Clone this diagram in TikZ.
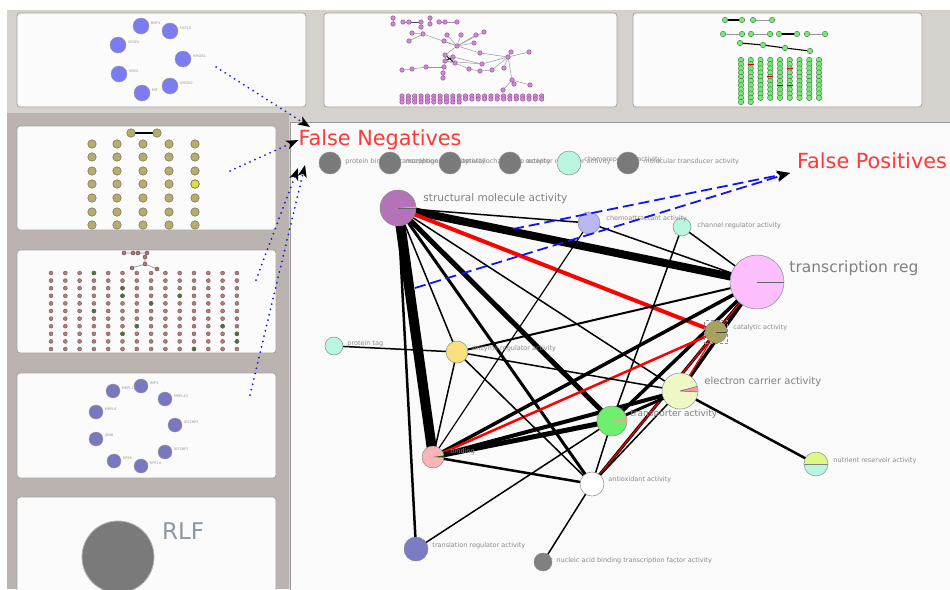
\documentclass[tikz,border=0pt]{standalone}
\usepackage{fontspec}
\setmainfont{DejaVu Sans}
\usetikzlibrary{arrows.meta}
\usetikzlibrary{positioning}

\definecolor{deskbg}{HTML}{D5D1CD}
\definecolor{colbg}{HTML}{BAB3AF}
\definecolor{paneledge}{HTML}{A4A2A0}
\definecolor{panelfill}{HTML}{FBFBFB}
\definecolor{labgray}{HTML}{8A8A8A}
\definecolor{fnred}{HTML}{FF3838}
\definecolor{linkblue}{HTML}{1414F0}
\definecolor{smacol}{HTML}{B472B8}
\definecolor{chacol}{HTML}{B8B8F4}
\definecolor{mintcol}{HTML}{B8F6E0}
\definecolor{tracol}{HTML}{FDBEFD}
\definecolor{catcol}{HTML}{A8A25E}
\definecolor{ecacol}{HTML}{EEF8C6}
\definecolor{tpacol}{HTML}{6EF06E}
\definecolor{eracol}{HTML}{F9E07E}
\definecolor{bndcol}{HTML}{F8B4B8}
\definecolor{trrcol}{HTML}{7C7CC4}
\definecolor{nutcol}{HTML}{DDF884}
\definecolor{bluecol}{HTML}{7B7BF2}
\definecolor{olivecol}{HTML}{B4AC70}
\definecolor{dotcol}{HTML}{B07C7C}
\definecolor{violcol}{HTML}{D884DC}
\definecolor{greencol}{HTML}{78E878}
\definecolor{slatecol}{HTML}{7878C0}
\definecolor{rlfcol}{HTML}{8C98A4}

\pgfdeclarelayer{back}
\pgfdeclarelayer{links}
\pgfsetlayers{back,links,main}

\tikzset{
  panel/.style={draw=paneledge, fill=panelfill, rounded corners=3pt, line width=0.8pt},
  term/.style={circle, draw=black!45, line width=0.5pt, inner sep=0pt, minimum size=#1},
  termlab/.style={text=labgray, inner sep=0pt, font=\fontsize{6.5}{7}\selectfont},
  biglab/.style={text=black!50, inner sep=0pt, font=\fontsize{#1}{#1}\selectfont},
  ln/.style={line width=#1},
  tiny/.style={text=black!40, inner sep=0pt, font=\fontsize{3.5}{4}\selectfont},
  mini/.style={circle, inner sep=0pt, line width=0.4pt, minimum size=#1},
  fnarrow/.style={linkblue, line width=2pt, line cap=round, dash pattern=on 0pt off 5.5pt,
    -{Stealth[black, length=12pt, width=9pt, inset=3pt]}},
  fparrow/.style={linkblue, line width=1.8pt, dash pattern=on 11pt off 5pt,
    -{Stealth[black, length=13pt, width=10pt, inset=3pt]}},
  callout/.style={text=fnred, inner sep=0pt, font=\fontsize{20.8}{21}\selectfont},
}

\begin{document}
\begin{tikzpicture}[x=1pt, y=-1pt]
\useasboundingbox (0,0) rectangle (950,589);

% desktop and panels
\begin{pgfonlayer}{back}
  \fill[white] (0,0) rectangle (950,589);
  \fill[deskbg] (7,10) rectangle (950,589);
  \fill[colbg] (7,113) rectangle (289,589);
  \draw[panel] (17,13) rectangle (306,107);
  \draw[panel] (324,13) rectangle (617,107);
  \draw[panel] (633,13) rectangle (922,107);
  \draw[panel] (17,126) rectangle (276,230);
  \draw[panel] (17,250) rectangle (276,353);
  \draw[panel] (17,373) rectangle (276,478);
  \draw[panel] (17,497) rectangle (276,600);
  \draw[draw=black!40, fill=white!98!black, line width=0.8pt] (290,122) rectangle (960,600);
\end{pgfonlayer}

% panel 1: blue cluster
\foreach \x/\y/\t [count=\i] in {141/26/BMP4, 170/31/FGF10, 118/45/VEGFA, 183/59/HMGB1,
    119/74/SOX2, 170/86/HMGB2, 142/93/MIF} {
  \node[mini=16pt, fill=bluecol, draw=black!40] (bl\i) at (\x,\y) {};
  \node[tiny, right=1.5pt of bl\i, yshift=3pt] (bl\i-l) {\t};
}

% panel 2: violet network
\foreach \n/\x/\y in {a1/393/18, a2/393/24, a3/403/22, a4/409/22, a5/421/22, a6/430/18,
    a7/430/24, a8/439/22, a9/445/22, a10/457/22, b1/421/27, b2/412/33, b3/423/34,
    b4/409/41, hub/457/46, c1/447/35, c2/461/35, c3/476/35, c4/484/32, c5/444/41,
    c6/474/43, d1/480/53, d2/508/57, d3/511/52, d4/529/52, t1/445/55, t2/453/57,
    t3/455/63, t4/445/61, e1/402/70, e2/412/69, e3/426/67, e4/444/67, e5/443/73,
    e6/443/78, f1/482/64, f2/469/69, f3/480/71, f4/492/70, f5/504/68, f6/512/80,
    f7/514/84, f8/530/85, f9/503/90}
  \node[mini=4.5pt, fill=violcol, draw=violcol!60!black] (\n) at (\x,\y) {};
\foreach \i in {0,...,22} {
  \node[mini=4.5pt, fill=violcol, draw=violcol!60!black] (vr\i-a) at ({402+\i*6.35},96) {};
  \node[mini=4.5pt, fill=violcol, draw=violcol!60!black] (vr\i-b) at ({402+\i*6.35},99) {};
}
\foreach \i in {0,...,9}
  \node[mini=4.5pt, fill=violcol, draw=violcol!60!black] (vr\i-c) at ({402+\i*6.35},102) {};
\begin{pgfonlayer}{links}
  \draw[line width=1pt, black!70] (a4) -- (a5);
  \foreach \a/\b in {a1/a2, a3/a4, a6/a7, a8/a9, a9/a10, b1/b3, b2/b3, b4/b3, b3/hub,
      hub/c1, hub/c2, hub/c3, hub/c4, hub/c5, hub/c6, hub/d1, d1/d2, d2/d3, d2/d4,
      hub/t1, t1/t2, t2/t3, t3/t4, t4/t1, t2/t4, e1/e2, e2/e3, e3/e4, e4/t4, e5/e4,
      e6/e5, t3/f2, f2/f3, t4/f1, f1/d2, f3/f4, f4/d2, d2/f5, d2/f6, f6/f7, f6/f8,
      f6/f9, t2/f1}
    \draw[black!40, line width=0.5pt] (\a) -- (\b);
  \draw[black, line width=0.8pt] (t1) -- (t3) (t2) -- (t4);
\end{pgfonlayer}

% panel 3: green pairs and grid
\foreach \n/\x/\y in {g1/725/20, g2/742/20, g3/753/20, g4/772/20, h1/723/34, h2/742/34,
    h3/751/34, h4/770/34, h5/779/34, h6/797/34, h7/807/34, h8/825/34, k1/740/43,
    k2/763/45, k3/785/48, k4/810/51}
  \node[mini=5.5pt, fill=greencol, draw=greencol!50!black] (\n) at (\x,\y) {};
\begin{pgfonlayer}{links}
  \draw[black, line width=1.5pt] (g1) -- (g2) (h5) -- (h6);
  \draw[black, line width=1.1pt] (k1) -- (k2) -- (k3) -- (k4);
  \draw[black!40, line width=0.5pt] (g3) -- (g4) (h1) -- (h2) (h3) -- (h4) (h7) -- (h8);
\end{pgfonlayer}
\foreach \j in {0,...,8}
  \foreach \i in {0,...,9}
    \node[mini=5.5pt, fill=greencol, draw=greencol!50!black] (gn-\j-\i) at ({741+\j*9.75},{60+\i*4.2}) {};
\foreach \j in {0,1}
  \node[mini=5.5pt, fill=greencol, draw=greencol!50!black] (gn-\j-10) at ({741+\j*9.75},102) {};
\foreach \j/\i in {1/1, 3/4, 4/6, 5/2, 5/6}
  \draw[red!80!black, line width=1.1pt] (gn-\j-\i.west) -- (gn-\j-\i.east);

% panel A: olive grid
\node[mini=8.5pt, fill=olivecol, draw=olivecol!55!black] (olp1) at (131,133) {};
\node[mini=8.5pt, fill=olivecol, draw=olivecol!55!black] (olp2) at (157,133) {};
\begin{pgfonlayer}{links}
  \draw[black, line width=1.4pt] (olp1) -- (olp2);
\end{pgfonlayer}
\foreach \x [count=\j] in {92,117,143,169,195}
  \foreach \y [count=\i] in {144,157,171,184,198,212,225}
    \node[mini=8.5pt, fill=olivecol, draw=olivecol!55!black] (ol-\j-\i) at (\x,\y) {};
\node[mini=8.5pt, fill=yellow!60!olivecol, draw=olivecol!55!black] (olhi) at (195,184) {};

% panel B: dot grid with a small tree
\foreach \x/\y [count=\i] in {124/253, 133/253, 138/253, 147/253, 145/257, 145/264, 132/268, 157/269}
  \node[mini=4pt, fill=dotcol, draw=dotcol!50!black] (tr\i) at (\x,\y) {};
\begin{pgfonlayer}{links}
  \draw[black!45, line width=0.6pt] (tr1) -- (tr4) (tr5) -- (tr6) (tr6) -- (tr7) (tr6) -- (tr8);
\end{pgfonlayer}
\foreach \j in {0,...,13}
  \foreach \i in {0,...,10}
    \node[mini=4pt, fill=dotcol, draw=dotcol!70!black] (bd-\j-\i) at ({51+\j*14.3},{273+\i*7.6}) {};
\foreach \j/\i in {3/0, 5/2, 5/3, 9/3, 7/4, 3/5, 6/7, 5/8, 12/7, 13/8, 13/9, 10/10}
  \node[mini=4pt, fill=black!55!green!60!dotcol, draw=black!60] (bdk-\j-\i) at ({51+\j*14.3},{273+\i*7.6}) {};

% panel C: slate ring
\foreach \x/\y/\t [count=\i] in {141/386/IMP3, 113/391/MRPL17, 165/399/MRPL40, 96/412/MRPL6,
    175/425/IGF2BP3, 96/439/JUNB, 165/452/IGF2BP1, 114/461/RPS6, 141/466/RPS14} {
  \node[mini=14pt, fill=slatecol, draw=black!40] (sl\i) at (\x,\y) {};
  \node[tiny, right=1.5pt of sl\i, yshift=3pt] (sl\i-l) {\t};
}

% panel D: single big node
\node[mini=72pt, fill=black!52, draw=black!30, line width=0.8pt] (rlf) at (118,557) {};
\node[text=rlfcol, inner sep=0pt, font=\fontsize{23}{23}\selectfont, anchor=west] (rlf-l) at (162,531) {RLF};

% main graph: terms
\foreach \x/\t [count=\i] in {330/protein binding transcription factor activity,
    390/morphogen activity, 450/metallochaperone activity, 510/receptor regulator activity} {
  \node[term=22pt, fill=black!52] (mf\i) at (\x,163) {};
  \node[termlab, right=4pt of mf\i, yshift=1pt] (mf\i-l) {\t};
}
\node[term=24pt, fill=mintcol] (mf5) at (569,163) {};
\node[termlab, right=3pt of mf5, yshift=3pt] (mf5-l) {chemorepellent activity};
\node[term=22pt, fill=black!52] (mf6) at (628,163) {};
\node[termlab, right=4pt of mf6, yshift=1pt] (mf6-l) {molecular transducer activity};

\node[term=36pt, fill=smacol] (sma) at (398,208) {};
\node[term=22pt, fill=chacol] (cha) at (589,223) {};
\node[term=18pt, fill=mintcol] (cra) at (682,227) {};
\node[term=54pt, fill=tracol] (tra) at (757,282) {};
\node[term=22pt, fill=catcol] (cat) at (716,332) {};
\node[term=36pt, fill=ecacol] (eca) at (680,391) {};
\node[term=30pt, fill=tpacol] (tpa) at (612,421) {};
\node[term=22pt, fill=eracol] (era) at (457,352) {};
\node[term=18pt, fill=mintcol] (ptg) at (334,346) {};
\node[term=22pt, fill=bndcol] (bnd) at (433,457) {};
\node[term=24pt, fill=white] (aox) at (592,484) {};
\node[term=24pt, fill=mintcol, path picture={
    \fill[nutcol] (path picture bounding box.north west) rectangle (path picture bounding box.east);
    \draw[black!50, line width=0.6pt] (path picture bounding box.west) -- (path picture bounding box.east);}] (nra) at (816,464) {};
\node[term=24pt, fill=trrcol] (trr) at (416,549) {};
\node[term=18pt, fill=black!50] (nbt) at (543,562) {};
\node[draw=black!45, densely dashed, line width=0.5pt, minimum size=23pt, inner sep=0pt] (catsel) at (716,332) {};

% pie slices
\fill[pink!80!red] (sma.center) -- (sma.east) -- (sma.5) -- cycle;
\draw[black!60, line width=0.8pt] (sma.center) -- (sma.east);
\draw[black!60, line width=0.8pt] (tra.center) -- (tra.east);
\fill[pink!80!red] (eca.center) -- (eca.-3) -- (eca.15) -- cycle;
\draw[black!60, line width=0.5pt] (eca.center) -- (eca.-3) (eca.center) -- (eca.15);
\fill[pink!80!red] (tpa.center) -- (tpa.-5) -- (tpa.12) -- cycle;
\fill[green!40!black] (bnd.center) -- (bnd.-3) -- (bnd.8) -- cycle;
\draw[black!70, line width=0.6pt] (cat.center) -- (cat.east);

% main graph: labels
\node[biglab=10.5, right=7pt of sma, yshift=9pt] (sma-l) {structural molecule activity};
\node[termlab, right=6pt of cha, yshift=4pt] (cha-l) {chemoattractant activity};
\node[termlab, right=6pt of cra, yshift=1pt] (cra-l) {channel regulator activity};
\node[biglab=15.5, right=5pt of tra, yshift=14pt] (tra-l) {transcription reg};
\node[termlab, right=6pt of cat, yshift=4pt] (cat-l) {catalytic activity};
\node[biglab=10, right=6pt of eca, yshift=9pt] (eca-l) {electron carrier activity};
\node[biglab=9, right=3pt of tpa, yshift=7pt] (tpa-l) {transporter activity};
\node[termlab, right=4pt of era, yshift=3pt] (era-l) {enzyme regulator activity};
\node[termlab, right=4pt of ptg, yshift=2pt] (ptg-l) {protein tag};
\node[termlab, right=6pt of bnd, yshift=5pt] (bnd-l) {binding};
\node[termlab, right=4pt of aox, yshift=4pt] (aox-l) {antioxidant activity};
\node[termlab, right=5pt of nra, yshift=3pt] (nra-l) {nutrient reservoir activity};
\node[termlab, right=4pt of trr, yshift=3pt] (trr-l) {translation regulator activity};
\node[termlab, right=4pt of nbt, yshift=1pt] (nbt-l) {nucleic acid binding transcription factor activity};

% main graph: links
\begin{pgfonlayer}{links}
  \draw[ln=8pt] (sma.center) -- (tra.center);
  \draw[ln=10pt] (sma.center) -- (bnd.center);
  \draw[ln=5pt] (sma.center) -- (tpa.center);
  \draw[ln=3pt] (sma.center) -- (aox.center);
  \draw[ln=2.5pt] (sma.center) -- (trr.center);
  \foreach \b in {cha, eca, era}
    \draw[ln=1.5pt] (sma.center) -- (\b.center);
  \draw[ln=4pt, red] (sma.center) -- (cat.center);
  \draw[ln=1.5pt] (cha.center) -- (tra.center);
  \draw[ln=1.2pt] (cha.center) -- (bnd.center);
  \draw[ln=1.5pt] (cra.center) -- (tra.center);
  \draw[ln=1.5pt] (cra.center) -- (tpa.center);
  \draw[ln=2pt] (tra.center) -- (era.center);
  \draw[ln=3.5pt] (tra.center) -- (bnd.center);
  \draw[ln=3.5pt] (tra.center) -- (tpa.center);
  \draw[ln=3pt] (tra.center) -- (aox.center);
  \draw[ln=3.5pt] (tra.center) -- (eca.center);
  \draw[ln=1.2pt, red] (tra.center) -- (aox.center);
  \draw[ln=2.5pt, red] (cat.center) -- (bnd.center);
  \draw[ln=1.2pt, red] (cat.center) -- (eca.center);
  \draw[ln=4pt] (eca.center) -- (bnd.center);
  \draw[ln=3pt] (eca.center) -- (tpa.center);
  \draw[ln=2.5pt] (eca.center) -- (nra.center);
  \foreach \b in {era, aox}
    \draw[ln=1.5pt] (eca.center) -- (\b.center);
  \draw[ln=5pt] (tpa.center) -- (bnd.center);
  \draw[ln=1.5pt] (tpa.center) -- (aox.center);
  \draw[ln=1.5pt] (trr.center) -- (tpa.center);
  \foreach \b in {aox, bnd, ptg}
    \draw[ln=1.5pt] (era.center) -- (\b.center);
  \draw[ln=2.5pt] (bnd.center) -- (aox.center);
  \draw[ln=1.5pt] (aox.center) -- (nbt.center);
\end{pgfonlayer}

% callouts
\node[callout] (fneg) at (380,140) {False Negatives};
\node[callout] (fpos) at (872,161) {False Positives};
\coordinate (fn1) at (216,67);
\coordinate (fn2) at (230,171);
\coordinate (fn3) at (256,280);
\coordinate (fn4) at (250,395);
\coordinate (fp1) at (513,229);
\coordinate (fp2) at (415,288);
\coordinate (fptip) at (790,173);
\draw[fnarrow] (fn1) -- (310,127);
\draw[fnarrow] (fn2) -- (fneg.west);
\draw[fnarrow] (fn3) -- (298,168);
\draw[fnarrow] (fn4) -- (305,165);
\draw[fparrow] (fp1) -- (fptip);
\draw[fparrow] (fp2) -- (fptip);
\end{tikzpicture}
\end{document}
